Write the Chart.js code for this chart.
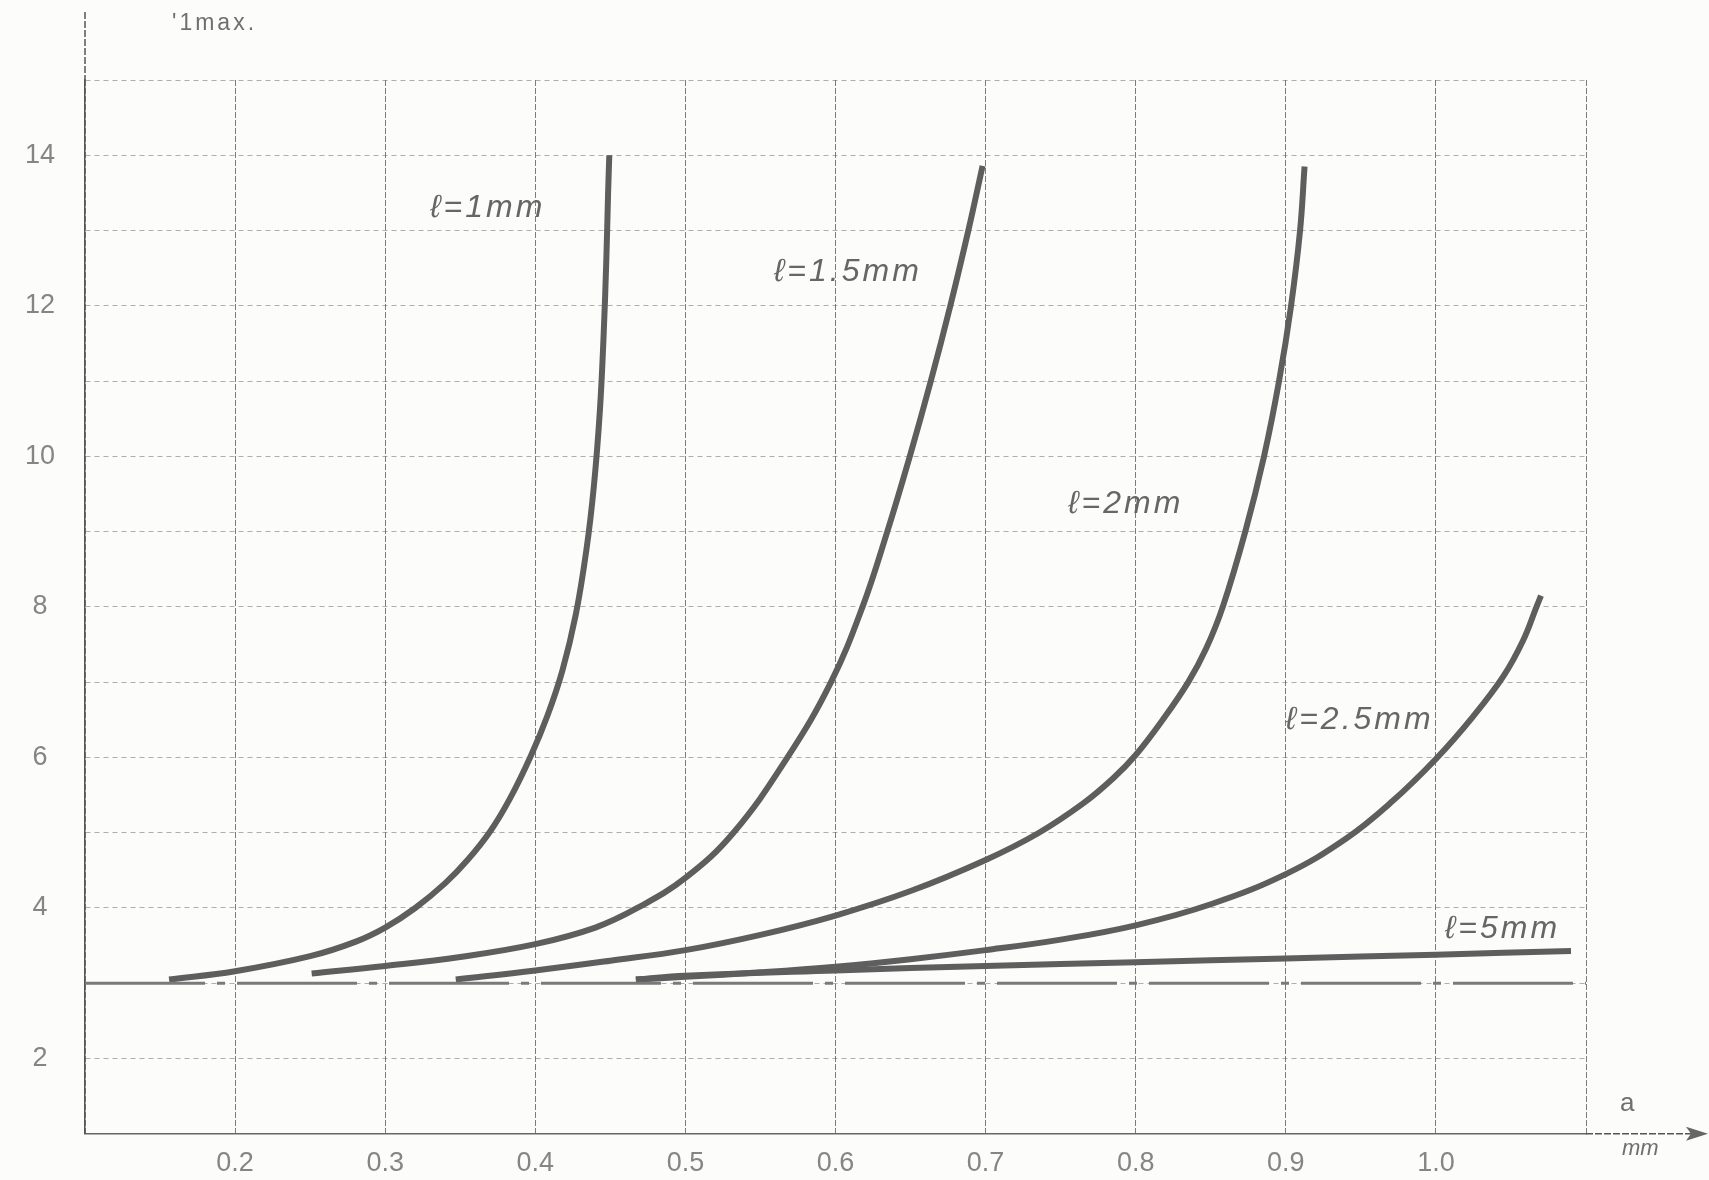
<!DOCTYPE html>
<html>
<head>
<meta charset="utf-8">
<script src="https://cdn.jsdelivr.net/npm/chart.js@4"></script>
<style>
  html, body { margin: 0; padding: 0; background: #fcfcfa; }
  canvas { display: block; }
</style>
</head>
<body>
<canvas id="c" width="1709" height="1180"></canvas>
<script>
// ---------- data ----------
const xTickLabels = ['0.2', '0.3', '0.4', '0.5', '0.6', '0.7', '0.8', '0.9', '1.0'];
const yTickLabels = ['2', '4', '6', '8', '10', '12', '14'];
const curveNames = ['ℓ=1mm', 'ℓ=1.5mm', 'ℓ=2mm', 'ℓ=2.5mm', 'ℓ=5mm'];
const yAxisTitle = "'1max.";
const xAxisTitle = 'a';
const xAxisUnit = 'mm';

const l1_a = [0.156, 0.2, 0.25, 0.28, 0.3, 0.32, 0.34, 0.355, 0.37, 0.383, 0.397, 0.408, 0.418, 0.427, 0.434, 0.439, 0.443, 0.4455, 0.4473, 0.4485, 0.4493];
const l1_v = [3.05, 3.16, 3.36, 3.55, 3.74, 4.0, 4.33, 4.64, 5.02, 5.45, 6.02, 6.55, 7.15, 7.9, 8.75, 9.6, 10.6, 11.6, 12.6, 13.5, 14.0];

const l15_a = [0.251, 0.3, 0.35, 0.4, 0.44, 0.468, 0.5, 0.532, 0.568, 0.597, 0.618, 0.6345, 0.6495, 0.6635, 0.6765, 0.6885, 0.698];
const l15_v = [3.13, 3.23, 3.35, 3.52, 3.74, 4.0, 4.4, 5.0, 6.0, 7.0, 8.0, 9.0, 10.0, 11.0, 12.0, 13.0, 13.86];

const l2_a = [0.347, 0.4, 0.45, 0.5, 0.55, 0.6, 0.65, 0.7, 0.735, 0.765, 0.785, 0.8, 0.818, 0.835, 0.847, 0.858, 0.873, 0.8855, 0.8955, 0.9035, 0.9095, 0.9125];
const l2_v = [3.05, 3.17, 3.3, 3.44, 3.643, 3.9, 4.225, 4.638, 4.993, 5.389, 5.723, 6.032, 6.5, 7.0, 7.45, 8.0, 9.0, 10.0, 11.0, 12.0, 13.0, 13.85];

const l25_a = [0.467, 0.5, 0.55, 0.6, 0.65, 0.7, 0.75, 0.8, 0.85, 0.9, 0.94, 0.97, 1.0, 1.025, 1.045, 1.058, 1.067, 1.07];
const l25_v = [3.05, 3.085, 3.145, 3.22, 3.32, 3.44, 3.58, 3.77, 4.05, 4.45, 4.92, 5.4, 5.98, 6.55, 7.08, 7.55, 8.0, 8.15];

const l5_a = [0.467, 0.5, 0.6, 0.7, 0.8, 0.9, 1.0, 1.09];
const l5_v = [3.05, 3.1, 3.17, 3.23, 3.28, 3.33, 3.38, 3.43];

const base_a = [0.1, 1.1];
const base_v = [3.0, 3.0];

// ---------- presentation ----------
const curveColor = '#5e5e5e';
const toPts = (a, v) => a.map((x, i) => ({ x: x, y: v[i] }));

// label anchors in data coordinates (left edge, vertical middle)
const labelAnchors = [
  { x: 0.33,  y: 13.3 },
  { x: 0.559, y: 12.45 },
  { x: 0.755, y: 9.37 },
  { x: 0.9,   y: 6.5 },
  { x: 1.006, y: 3.72 }
];

const curveDS = (label, a, v) => ({
  label: label,
  data: toPts(a, v),
  showLine: true,
  borderColor: curveColor,
  borderWidth: 6,
  pointRadius: 0,
  tension: 0.4,
  borderCapStyle: 'butt',
  borderJoinStyle: 'round',
  fill: false
});

const datasets = [
  {
    label: 'base',
    data: toPts(base_a, base_v),
    showLine: true,
    borderColor: '#7a7a7a',
    borderWidth: 3,
    borderDash: [120, 12, 8, 12],
    pointRadius: 0,
    fill: false
  },
  curveDS(curveNames[0], l1_a, l1_v),
  curveDS(curveNames[1], l15_a, l15_v),
  curveDS(curveNames[2], l2_a, l2_v),
  curveDS(curveNames[3], l25_a, l25_v),
  curveDS(curveNames[4], l5_a, l5_v)
];

const extras = {
  id: 'extras',
  afterDraw(chart) {
    const { ctx, chartArea: ca, scales: { x, y } } = chart;
    ctx.save();
    // axis extensions
    ctx.strokeStyle = '#555';
    ctx.lineWidth = 1.5;
    ctx.setLineDash([7, 2]);
    ctx.beginPath();
    ctx.moveTo(ca.left, 12);
    ctx.lineTo(ca.left, ca.top);
    ctx.moveTo(ca.right, ca.bottom);
    ctx.lineTo(1692, ca.bottom);
    ctx.stroke();
    ctx.setLineDash([]);
    // arrow head
    ctx.fillStyle = '#666';
    ctx.beginPath();
    ctx.moveTo(1708, ca.bottom);
    ctx.lineTo(1686, ca.bottom - 7);
    ctx.lineTo(1691, ca.bottom);
    ctx.lineTo(1686, ca.bottom + 7);
    ctx.closePath();
    ctx.fill();

    // axis titles
    ctx.fillStyle = '#6f6f6f';
    ctx.textBaseline = 'middle';
    ctx.textAlign = 'left';
    if ('letterSpacing' in ctx) ctx.letterSpacing = '3px';
    ctx.font = '23px "Liberation Sans"';
    ctx.fillText(yAxisTitle, 172, 24);
    if ('letterSpacing' in ctx) ctx.letterSpacing = '0px';
    ctx.font = '26px "Liberation Sans"';
    ctx.fillText(xAxisTitle, 1620, 1104);
    ctx.font = 'italic 22px "Liberation Sans"';
    ctx.fillText(xAxisUnit, 1622, 1149);

    // curve labels
    ctx.fillStyle = '#666';
    ctx.font = 'italic 32px "Liberation Sans"';
    if ('letterSpacing' in ctx) ctx.letterSpacing = '3px';
    curveNames.forEach((name, i) => {
      const p = labelAnchors[i];
      ctx.fillText(name, x.getPixelForValue(p.x), y.getPixelForValue(p.y));
    });
    ctx.restore();
  }
};

new Chart(document.getElementById('c'), {
  type: 'scatter',
  data: { datasets: datasets },
  options: {
    responsive: false,
    animation: false,
    devicePixelRatio: 1,
    layout: { padding: { top: 80, right: 123, left: 0, bottom: 0 } },
    plugins: {
      legend: { display: false },
      tooltip: { enabled: false },
      title: { display: false }
    },
    scales: {
      x: {
        type: 'linear',
        min: 0.1,
        max: 1.1,
        afterFit(s) { s.height = 46; },
        ticks: {
          stepSize: 0.1,
          autoSkip: false,
          maxRotation: 0,
          padding: 14,
          color: '#858585',
          font: { family: 'Liberation Sans', size: 27 },
          callback(v) {
            const s = (Math.round(v * 10) / 10).toFixed(1);
            return xTickLabels.includes(s) ? s : '';
          }
        },
        grid: { color: 'rgba(70,70,70,0.7)', lineWidth: 1, drawTicks: false },
        border: { display: true, color: '#666', width: 1.5, dash: [6, 2] }
      },
      y: {
        type: 'linear',
        min: 1,
        max: 15,
        afterFit(s) { s.width = 85; },
        ticks: {
          stepSize: 1,
          autoSkip: false,
          padding: 30,
          crossAlign: 'center',
          color: '#858585',
          font: { family: 'Liberation Sans', size: 27 },
          callback(v) {
            const s = String(Math.round(v));
            return yTickLabels.includes(s) ? s : '';
          }
        },
        grid: { color: 'rgba(110,110,110,0.55)', lineWidth: 1, drawTicks: false },
        border: { display: true, color: '#555', width: 1.5, dash: [5, 4] }
      }
    }
  },
  plugins: [extras]
});
</script>
</body>
</html>
